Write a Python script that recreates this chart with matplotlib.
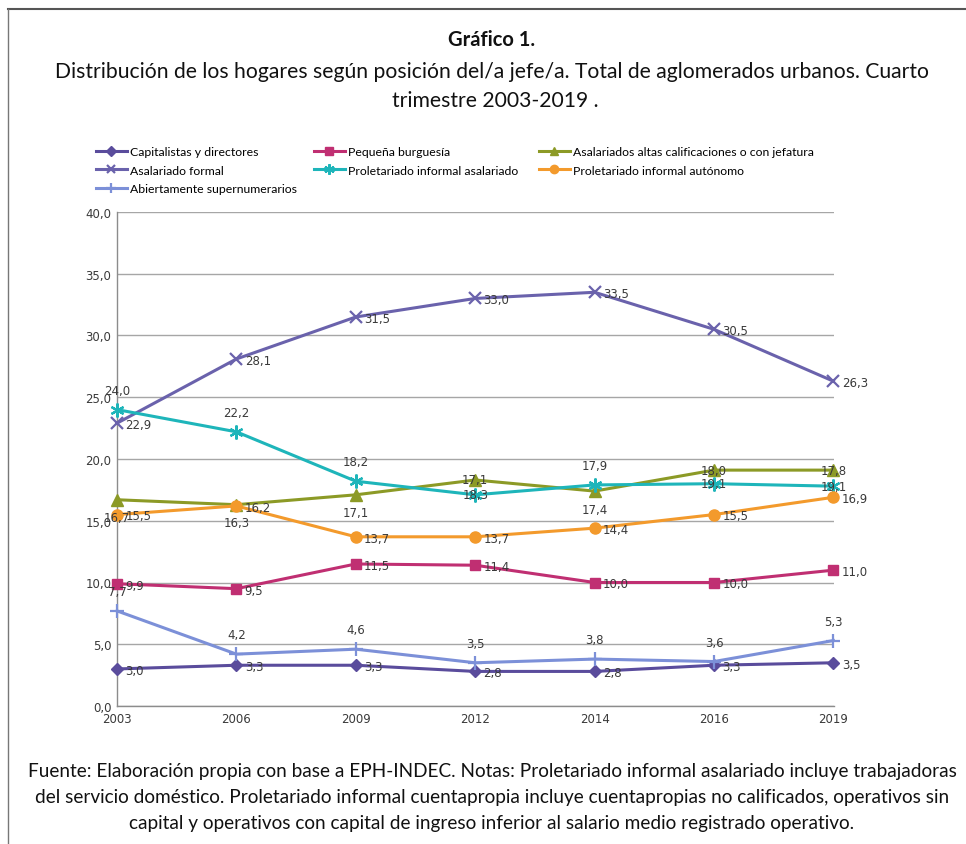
import matplotlib
matplotlib.use("Agg")
import matplotlib.pyplot as plt
from matplotlib.lines import Line2D

# ---------------- data ----------------
years = ["2003", "2006", "2009", "2012", "2014", "2016", "2019"]
yticks = [0, 5, 10, 15, 20, 25, 30, 35, 40]

capitalistas = [3.0, 3.3, 3.3, 2.8, 2.8, 3.3, 3.5]
pequena = [9.9, 9.5, 11.5, 11.4, 10.0, 10.0, 11.0]
asal_altas = [16.7, 16.3, 17.1, 18.3, 17.4, 19.1, 19.1]
asal_formal = [22.9, 28.1, 31.5, 33.0, 33.5, 30.5, 26.3]
prol_asal = [24.0, 22.2, 18.2, 17.1, 17.9, 18.0, 17.8]
prol_aut = [15.5, 16.2, 13.7, 13.7, 14.4, 15.5, 16.9]
supernum = [7.7, 4.2, 4.6, 3.5, 3.8, 3.6, 5.3]

# data labels as printed in the original (some are swapped in the source)
labels_asal_altas = ["16,7", "16,3", "17,1", "17,1", "17,4", "18,0", "17,8"]
labels_prol_asal = ["24,0", "22,2", "18,2", "18,3", "17,9", "19,1", "19,1"]

names = ["Capitalistas y directores", "Pequeña burguesía",
         "Asalariados altas calificaciones o con jefatura",
         "Asalariado formal", "Proletariado informal asalariado",
         "Proletariado informal autónomo", "Abiertamente supernumerarios"]


def fmt(v):
    return f"{v:.1f}".replace(".", ",")


series = [
    # values, labels, color, marker, msize, label placement list
    (capitalistas, [fmt(v) for v in capitalistas], "#5A4C9C", "D", 6.5, ["r"] * 7),
    (pequena, [fmt(v) for v in pequena], "#C02F72", "s", 7.5, ["r"] * 7),
    (asal_altas, labels_asal_altas, "#8C9A26", "^", 8, ["b", "b", "b", "c", "b", "c", "c"]),
    (asal_formal, [fmt(v) for v in asal_formal], "#6A62AC", "x", 8, ["r"] * 7),
    (prol_asal, labels_prol_asal, "#1EB5BA", (6, 2, 0), 10, ["a", "a", "a", "c", "a", "c", "c"]),
    (prol_aut, [fmt(v) for v in prol_aut], "#F39A2C", "o", 8, ["r"] * 7),
    (supernum, [fmt(v) for v in supernum], "#7C90D8", "+", 10, ["a"] * 7),
]

TXT = ["Lato", "DejaVu Sans"]
LEG = ["Liberation Sans Narrow", "Lato", "DejaVu Sans"]

fig = plt.figure(figsize=(9.66, 8.45), dpi=100)
W, H = 966, 845

# outer frame (top and left lines)
fig.add_artist(Line2D([8 / W, 1.0], [1 - 10 / H, 1 - 10 / H], color="#555555", lw=1.5,
                      transform=fig.transFigure))
fig.add_artist(Line2D([8 / W, 8 / W], [1 - 10 / H, 0.0], color="#777777", lw=1.0,
                      transform=fig.transFigure))

# titles
fig.text(492 / W, 1 - 40 / H, "Gráfico 1.", ha="center", va="center",
         fontsize=14.5, fontweight="bold", family=TXT, color="#111111")
fig.text(492 / W, 1 - 72 / H,
         "Distribución de los hogares según posición del/a jefe/a. Total de aglomerados urbanos. Cuarto",
         ha="center", va="center", fontsize=15.2, family=TXT, color="#111111")
fig.text(495 / W, 1 - 101 / H, "trimestre 2003-2019 .", ha="center", va="center",
         fontsize=15.2, family=TXT, color="#111111")

foot = ["Fuente: Elaboración propia con base a EPH-INDEC. Notas: Proletariado informal asalariado incluye trabajadoras",
        "del servicio doméstico. Proletariado informal cuentapropia incluye cuentapropias no calificados, operativos sin",
        "capital y operativos con capital de ingreso inferior al salario medio registrado operativo."]
for i, line in enumerate(foot):
    fig.text(492 / W, 1 - (772 + 26 * i) / H, line, ha="center", va="center",
             fontsize=13.7, family=TXT, color="#111111")

# axes
ax = fig.add_axes([117 / W, 138 / H, (834 - 117) / W, (707 - 213) / H])
x = list(range(len(years)))
handles = []
for vals, labs, col, mk, ms, pos in series:
    mew = 1.6 if mk in ("x", "+", (6, 2, 0)) else 1
    ln, = ax.plot(x, vals, color=col, lw=2.2, marker=mk, markersize=ms,
                  markeredgewidth=mew, markeredgecolor=col, markerfacecolor=col,
                  zorder=3, clip_on=False)
    handles.append(ln)
    for xi, v, lab, p in zip(x, vals, labs, pos):
        if p == "r":
            off, ha = (6, -1), "left"
        elif p == "a":
            off, ha = (0, 14), "center"
        elif p == "b":
            off, ha = (0, -13), "center"
        else:
            off, ha = (0, 0), "center"
        ax.annotate(lab, (xi, v), xytext=off, textcoords="offset points",
                    ha=ha, va="center", fontsize=8.5, color="#3A3A3A", zorder=4)

ax.set_xlim(0, 6.005)
ax.set_ylim(0, 40)
ax.set_yticks(yticks)
ax.set_yticklabels([fmt(t) for t in yticks], fontsize=8.5, color="#3A3A3A")
ax.set_xticks(x)
ax.set_xticklabels(years, fontsize=8.5, color="#3A3A3A")
ax.tick_params(length=0, pad=4)
ax.grid(axis="y", color="#A6A6A6", lw=1.0)
ax.set_axisbelow(True)
for s in ["top", "right"]:
    ax.spines[s].set_visible(False)
for s in ["left", "bottom"]:
    ax.spines[s].set_color("#8C8C8C")
    ax.spines[s].set_linewidth(1.0)

# legend in three columns, row-major order as in original
cols = [[0, 3, 6], [1, 4], [2, 5]]
xs = [96, 314, 539]
for c, xx in zip(cols, xs):
    fig.legend([handles[i] for i in c], [names[i] for i in c], loc="upper left",
               bbox_to_anchor=(xx / W, 1 - 147 / H), frameon=False, ncol=1,
               handlelength=2.5, handletextpad=0.3, labelspacing=0.62,
               borderaxespad=0, borderpad=0, numpoints=1, markerscale=0.75,
               prop={"family": LEG, "size": 8.8})

fig.savefig("out.png", dpi=100)
